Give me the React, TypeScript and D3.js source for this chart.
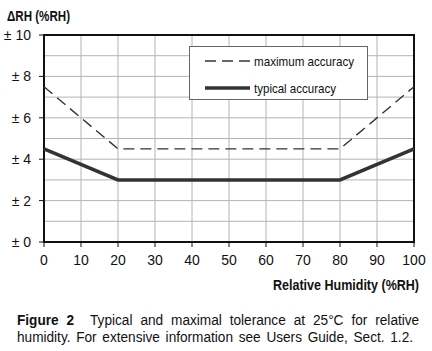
import React, { useEffect, useRef } from 'react';
import * as d3 from 'd3';

const rhValues = [0, 20, 80, 100];
const maxAccuracy = [7.5, 4.5, 4.5, 7.5];
const typAccuracy = [4.5, 3, 3, 4.5];
const xTicks = [0, 10, 20, 30, 40, 50, 60, 70, 80, 90, 100];
const yTicks = [0, 2, 4, 6, 8, 10];
const yGrid = [1, 2, 3, 4, 5, 6, 7, 8, 9];
const legendLabels = ['maximum accuracy', 'typical accuracy'];
const captionBold = 'Figure 2';
const captionLine1 = 'Typical and maximal tolerance at 25°C for relative';
const captionLine2 = 'humidity. For extensive information see Users Guide, Sect. 1.2.';

const FONT = 'Arial, "Liberation Sans", sans-serif';

const App: React.FC = () => {
  const ref = useRef<SVGSVGElement | null>(null);

  useEffect(() => {
    const svg = d3.select(ref.current);
    svg.selectAll('*').remove();

    svg.append('rect').attr('width', 432).attr('height', 351).attr('fill', 'white');

    const left = 44, right = 414, top = 35, bottom = 242;
    const x = d3.scaleLinear().domain([0, 100]).range([left, right]);
    const y = d3.scaleLinear().domain([0, 10]).range([bottom, top]);

    // grid
    svg.append('g').selectAll('line').data(xTicks.slice(1, -1)).enter().append('line')
      .attr('x1', d => x(d)).attr('x2', d => x(d)).attr('y1', top).attr('y2', bottom)
      .attr('stroke', '#b4b4b4').attr('stroke-width', 1);
    svg.append('g').selectAll('line').data(yGrid).enter().append('line')
      .attr('x1', left).attr('x2', right).attr('y1', d => y(d)).attr('y2', d => y(d))
      .attr('stroke', '#b4b4b4').attr('stroke-width', 1);

    // frame
    svg.append('rect').attr('x', left).attr('y', top)
      .attr('width', right - left).attr('height', bottom - top)
      .attr('fill', 'none').attr('stroke', '#111').attr('stroke-width', 2);

    // ticks
    svg.append('g').selectAll('line').data(yTicks).enter().append('line')
      .attr('x1', left - 5).attr('x2', left).attr('y1', d => y(d)).attr('y2', d => y(d))
      .attr('stroke', '#111').attr('stroke-width', 1);
    svg.append('g').selectAll('line').data(xTicks).enter().append('line')
      .attr('x1', d => x(d)).attr('x2', d => x(d)).attr('y1', bottom).attr('y2', bottom + 5)
      .attr('stroke', '#111').attr('stroke-width', 1);

    // tick labels
    svg.append('g').selectAll('text').data(yTicks).enter().append('text')
      .attr('x', 31).attr('y', d => y(d) + 5)
      .attr('text-anchor', 'end')
      .style('font-family', FONT).style('font-size', '14px').attr('fill', '#111')
      .text(d => `± ${d}`);
    svg.append('g').selectAll('text').data(xTicks).enter().append('text')
      .attr('x', d => x(d)).attr('y', 265)
      .attr('text-anchor', 'middle')
      .style('font-family', FONT).style('font-size', '14px').attr('fill', '#111')
      .text(d => `${d}`);

    // axis titles
    svg.append('text').attr('x', 7).attr('y', 20.5)
      .style('font-family', FONT).style('font-size', '14px').style('font-weight', 'bold')
      .attr('textLength', 63).attr('lengthAdjust', 'spacingAndGlyphs')
      .attr('fill', '#111').text('ΔRH (%RH)');
    svg.append('text').attr('x', 273).attr('y', 290)
      .style('font-family', FONT).style('font-size', '15px').style('font-weight', 'bold')
      .attr('textLength', 146).attr('lengthAdjust', 'spacingAndGlyphs')
      .attr('fill', '#111').text('Relative Humidity (%RH)');

    // lines
    const pts = (vals: number[]) => rhValues.map((r, i) => [r, vals[i]] as [number, number]);
    const line = d3.line<[number, number]>().x(d => x(d[0])).y(d => y(d[1]));
    svg.append('path').attr('d', line(pts(maxAccuracy)))
      .attr('fill', 'none').attr('stroke', '#333').attr('stroke-width', 1.4)
      .attr('stroke-dasharray', '11,6');
    svg.append('path').attr('d', line(pts(typAccuracy)))
      .attr('fill', 'none').attr('stroke', '#333').attr('stroke-width', 3.5);

    // legend
    const lg = svg.append('g');
    lg.append('rect').attr('x', 189.5).attr('y', 46.5).attr('width', 178).attr('height', 53)
      .attr('fill', 'white').attr('stroke', '#666').attr('stroke-width', 1);
    legendLabels.forEach((lab, i) => {
      const ly = 61 + i * 27;
      lg.append('line').attr('x1', 205).attr('x2', 250).attr('y1', ly).attr('y2', ly)
        .attr('stroke', '#333')
        .attr('stroke-width', i === 0 ? 1.4 : 3.5)
        .attr('stroke-dasharray', i === 0 ? '11,6' : null);
      lg.append('text').attr('x', 254).attr('y', ly + 4.5)
        .style('font-family', FONT).style('font-size', '13px').attr('fill', '#111')
        .attr('textLength', i === 0 ? 100 : 82).attr('lengthAdjust', 'spacingAndGlyphs')
        .text(lab);
    });

    // caption (condensed, justified)
    const sx = 0.88;
    const cg = svg.append('g').attr('transform', `translate(17,0) scale(${sx},1)`);
    const target = (415 - 17) / sx;
    const cap1 = cg.append('text').attr('x', 0).attr('y', 325)
      .style('font-family', FONT).style('font-size', '15.5px').attr('fill', '#111');
    cap1.append('tspan').style('font-weight', 'bold').text(captionBold);
    cap1.append('tspan').text('\u00a0\u00a0' + captionLine1);
    const w1 = (cap1.node() as SVGTextElement).getComputedTextLength();
    const gaps1 = captionLine1.split(' ').length + 1;
    cap1.style('word-spacing', `${(target - w1) / gaps1}px`);

    const cap2 = cg.append('text').attr('x', 0).attr('y', 342)
      .style('font-family', FONT).style('font-size', '15.5px').attr('fill', '#111')
      .text(captionLine2);
    const w2 = (cap2.node() as SVGTextElement).getComputedTextLength();
    const gaps2 = captionLine2.split(' ').length - 1;
    const target2 = (413 - 17) / sx;
    cap2.style('word-spacing', `${(target2 - w2) / gaps2}px`);
  }, []);

  return (
    <svg ref={ref} width={432} height={351}
      style={{ position: 'absolute', left: 0, top: 0, display: 'block' }} />
  );
};

export default App;
